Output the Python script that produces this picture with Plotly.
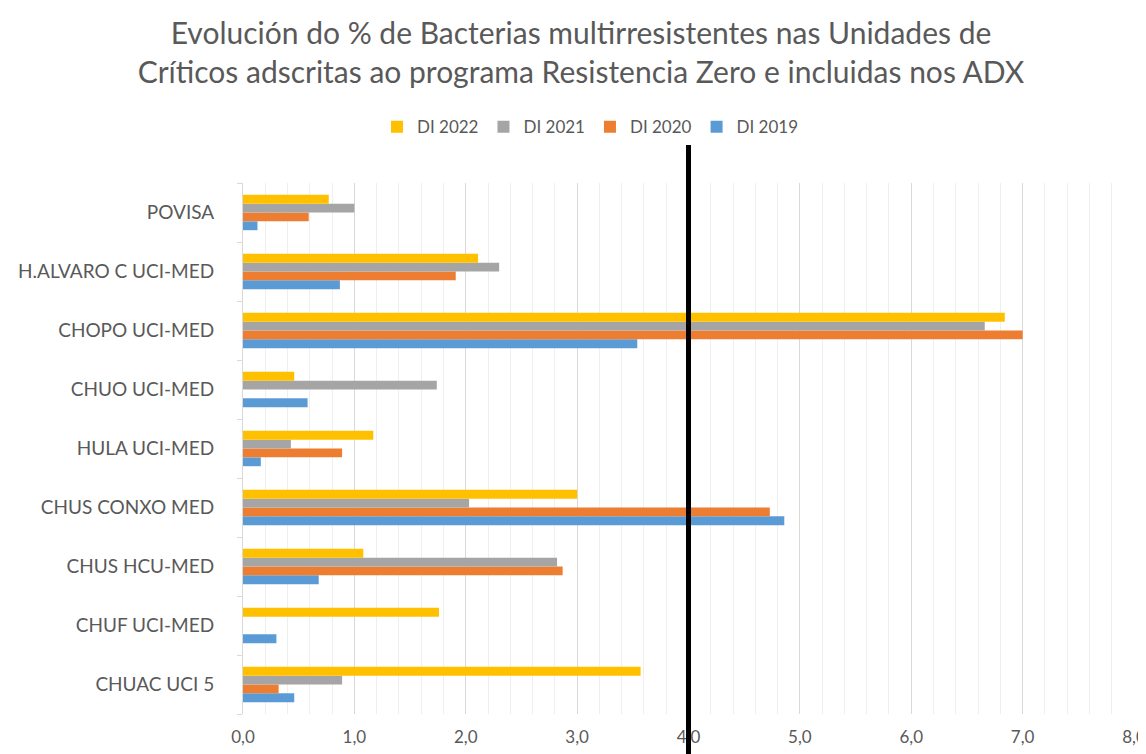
import plotly.graph_objects as go

# categories listed bottom -> top
units = ['CHUAC UCI 5', 'CHUF UCI-MED', 'CHUS HCU-MED', 'CHUS CONXO MED',
         'HULA UCI-MED', 'CHUO UCI-MED', 'CHOPO UCI-MED',
         'H.ALVARO C UCI-MED', 'POVISA']

di_2019 = [0.46, 0.30, 0.68, 4.86, 0.16, 0.58, 3.54, 0.87, 0.13]
di_2020 = [0.32, 0.00, 2.87, 4.73, 0.89, 0.00, 7.00, 1.91, 0.59]
di_2021 = [0.89, 0.00, 2.82, 2.03, 0.43, 1.74, 6.66, 2.30, 1.00]
di_2022 = [3.57, 1.76, 1.08, 3.00, 1.17, 0.46, 6.84, 2.11, 0.77]

series = [('DI 2019', di_2019, '#5B9BD5'),
          ('DI 2020', di_2020, '#ED7D31'),
          ('DI 2021', di_2021, '#A5A5A5'),
          ('DI 2022', di_2022, '#FFC000')]

text_color = '#595959'
font_family = 'Lato, Open Sans, sans-serif'

fig = go.Figure()
for name, vals, col in series:
    fig.add_trace(go.Bar(
        y=units, x=vals, name=name, orientation='h',
        marker=dict(color=col, line=dict(width=0)),
    ))

# reference line at 4.0
fig.add_shape(type='line', xref='x', yref='paper', x0=4.0, x1=4.0,
              y0=-0.1, y1=1.075, line=dict(color='black', width=5))

fig.update_layout(
    width=1146, height=754,
    barmode='group', bargap=0.4, bargroupgap=0,
    paper_bgcolor='white', plot_bgcolor='white',
    separators=', ',
    font=dict(family=font_family, color=text_color),
    title=dict(
        text='Evolución do % de Bacterias multirresistentes nas Unidades de<br>'
             'Críticos adscritas ao programa Resistencia Zero e incluidas nos ADX',
        x=0.5, xanchor='center', xref='container',
        y=0.952, yanchor='middle', yref='container',
        font=dict(size=30, color=text_color, family=font_family),
    ),
    legend=dict(
        orientation='h', traceorder='reversed',
        x=0.39, xanchor='center', y=1.105, yanchor='middle',
        font=dict(size=17, color=text_color),
    ),
    margin=dict(l=235, r=20, t=175, b=48, autoexpand=False),
    xaxis=dict(
        range=[0, 8], dtick=1, tickformat='.1f',
        showgrid=True, gridcolor='#d9d9d9', gridwidth=1,
        minor=dict(dtick=0.2, showgrid=True, gridcolor='#efefef', gridwidth=1),
        zeroline=False, showline=False,
        tickfont=dict(size=17, color=text_color),
        ticklabelstandoff=11, ticklabeloverflow='allow',
    ),
    yaxis=dict(
        categoryorder='array', categoryarray=units,
        showline=True, linecolor='#d9d9d9', linewidth=1,
        ticks='outside', tickson='boundaries', ticklen=5, tickcolor='#d9d9d9',
        showgrid=False,
        tickfont=dict(size=19, color=text_color),
        ticklabelstandoff=24,
    ),
)

fig.write_html('out.html')
